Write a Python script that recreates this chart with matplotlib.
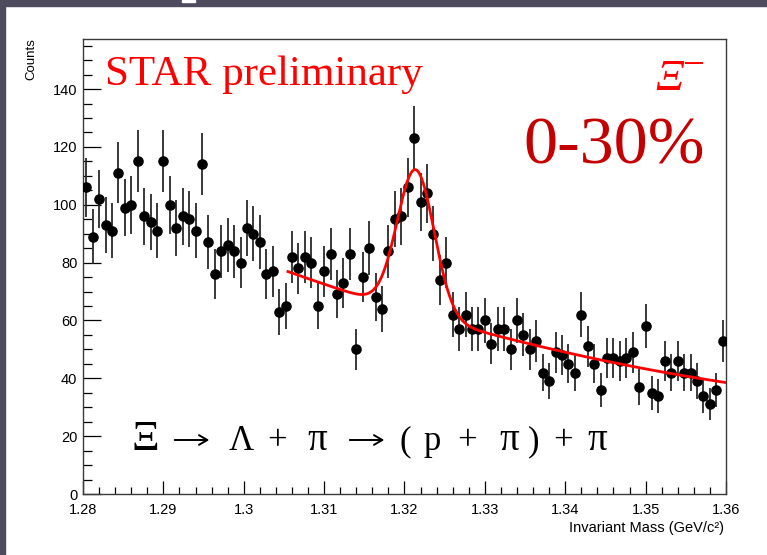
import numpy as np
import matplotlib
matplotlib.use('Agg')
import matplotlib.pyplot as plt
from matplotlib.patches import Rectangle, FancyArrowPatch
from matplotlib.ticker import MultipleLocator

# invariant mass histogram, 100 bins from 1.28 to 1.36
mass_lo = 1.28
mass_hi = 1.36
counts = [106, 89, 102, 93, 91, 111, 99, 100, 115, 96,
          94, 91, 115, 100, 92, 96, 95, 91, 114, 87,
          76, 84, 86, 84, 80, 92, 90, 87, 76, 77,
          63, 65, 82, 78, 82, 80, 65, 77, 83, 69,
          73, 83, 50, 75, 85, 68, 64, 84, 95, 96,
          106, 123, 101, 104, 90, 74, 80, 62, 57, 62,
          57, 57, 60, 52, 57, 57, 50, 60, 55, 50,
          53, 42, 39, 49, 48, 45, 42, 62, 51, 45,
          36, 47, 47, 46, 47, 49, 37, 58, 35, 34,
          46, 42, 46, 42, 42, 39, 34, 31, 36, 53]

# gaus + pol2 fit, background polynomial in (m - fit_lo)
fit_lo = 1.3055
fit_hi = 1.36
bg_pars = [76.9, -988.0, 5206.0]
peak_amp = 49.6
peak_mean = 1.3214
peak_sigma = 0.0023

xticks = [1.28, 1.29, 1.3, 1.31, 1.32, 1.33, 1.34, 1.35, 1.36]
xticklabels = ['1.28', '1.29', '1.3', '1.31', '1.32', '1.33', '1.34', '1.35', '1.36']
yticks = [0, 20, 40, 60, 80, 100, 120, 140]

# decay chain, symbol and its centre in pixels (None = arrow)
decay_tokens = ['Ξ', None, 'Λ', '+', 'π', None, '(', 'p', '+', 'π', ')', '+', 'π']
decay_xpos = [145, 192, 241, 277, 317, 367, 405, 432, 467, 509, 534, 563, 597]
decay_size = {'Ξ': 31, 'π': 28}

counts = np.array(counts, dtype=float)
nbins = len(counts)
edges = np.linspace(mass_lo, mass_hi, nbins + 1)
centers = 0.5 * (edges[:-1] + edges[1:])
errs = np.sqrt(counts)

def fit_func(m):
    u = m - fit_lo
    bg = bg_pars[0] + bg_pars[1] * u + bg_pars[2] * u**2
    return bg + peak_amp * np.exp(-0.5 * ((m - peak_mean) / peak_sigma)**2)

W, H = 767, 555
fig = plt.figure(figsize=(W / 100, H / 100), dpi=100)
fig.patch.set_facecolor('white')

# dark slide frame along top and left edge
band = '#4f4b5e'
fig.add_artist(Rectangle((0, 1 - 6 / H), 1, 6 / H, transform=fig.transFigure, color=band, zorder=0))
fig.add_artist(Rectangle((0, 0), 5 / W, 1, transform=fig.transFigure, color=band, zorder=0))
fig.add_artist(Rectangle((182 / W, 1 - 2 / H), 13 / W, 2 / H, transform=fig.transFigure, color='white', zorder=1))

ax = fig.add_axes([83 / W, 1 - 494 / H, (726 - 83) / W, (494 - 39) / H])
ax.set_xlim(mass_lo, mass_hi)
ax.set_ylim(0, 157.3)

ax.errorbar(centers, counts, yerr=errs, fmt='o', color='black', ms=6.6,
            ecolor='#2a2a2a', elinewidth=1.3, capsize=0, zorder=3)

mfit = np.linspace(fit_lo, fit_hi, 600)
ax.plot(mfit, fit_func(mfit), color='#ff0000', lw=2.0, zorder=4)

tick_font = 'Liberation Sans'
ax.set_xticks(xticks)
ax.set_xticklabels(xticklabels, family=tick_font, fontsize=10.5)
ax.set_yticks(yticks)
ax.set_yticklabels([str(v) for v in yticks], family=tick_font, fontsize=10.5)
ax.xaxis.set_minor_locator(MultipleLocator(0.002))
ax.yaxis.set_minor_locator(MultipleLocator(5))
ax.tick_params(axis='x', which='major', direction='in', length=9.5, width=0.9, pad=6.5, top=False)
ax.tick_params(axis='x', which='minor', direction='in', length=4.7, width=0.9, top=False)
ax.tick_params(axis='y', which='major', direction='in', length=13, width=0.9, pad=4, right=False)
ax.tick_params(axis='y', which='minor', direction='in', length=6.5, width=0.9, right=False)
for s in ax.spines.values():
    s.set_linewidth(1.0)
    s.set_color('#3a3a3a')

fig.text(724 / W, 1 - 528 / H, 'Invariant Mass (GeV/c²)', ha='right', va='center',
         family=tick_font, fontsize=10.5)
fig.text(31 / W, 1 - 38 / H, 'Counts', rotation=90, ha='center', va='top',
         family=tick_font, fontsize=9.5)

serif = ['Liberation Serif', 'DejaVu Serif']
fig.text(105 / W, 1 - 85 / H, 'STAR preliminary', ha='left', va='baseline',
         family=serif, fontsize=31, color='#ff0000')
fig.text(655 / W, 1 - 90 / H, 'Ξ', ha='left', va='baseline', family=serif,
         style='italic', fontsize=32, color='#ff0000')
fig.text(682 / W, 1 - 66 / H, '−', ha='left', va='center', family=serif,
         fontsize=28, color='#ff0000')
fig.text(523 / W, 1 - 163 / H, '0-30%', ha='left', va='baseline', family=serif,
         fontsize=49, color='#c40000')

# Ξ -> Λ + π -> (p + π) + π, one glyph at a time
base_y = 1 - 450 / H
for tok, xc in zip(decay_tokens, decay_xpos):
    if tok is None:
        fig.add_artist(FancyArrowPatch(
            ((xc - 20) / W, 1 - 440 / H), ((xc + 20) / W, 1 - 440 / H),
            transform=fig.transFigure, arrowstyle='->,head_length=6,head_width=3.5',
            lw=1.4, color='black', mutation_scale=1))
    else:
        fig.text(xc / W, base_y, tok, ha='center', va='baseline',
                 family=serif, fontsize=decay_size.get(tok, 25), color='black')

fig.savefig('out.png', dpi=100)
